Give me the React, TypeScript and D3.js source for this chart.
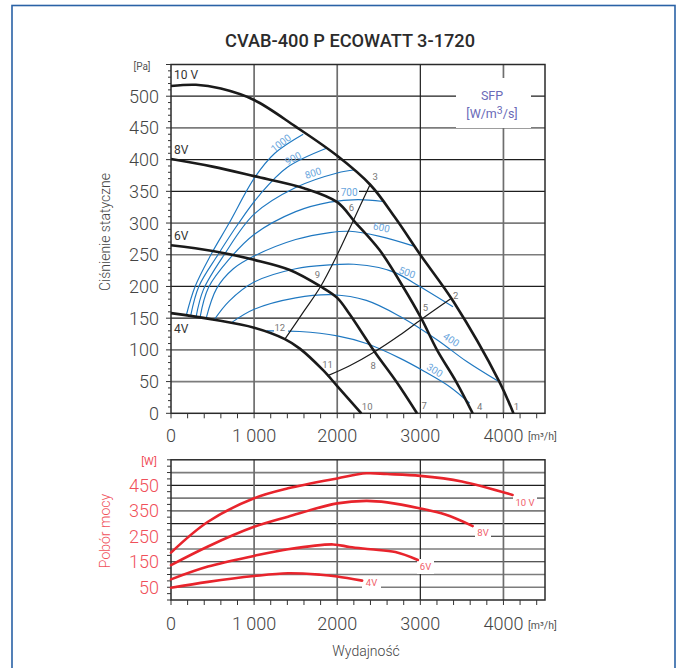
import React from 'react';
import * as d3 from 'd3';

const title = 'CVAB-400 P ECOWATT 3-1720';

// ---- axis ticks ----
const flowTicks = [0, 1000, 2000, 3000, 4000];
const flowTickLabels = ['0', '1 000', '2000', '3000', '4000'];
const pressureTicks = [0, 50, 100, 150, 200, 250, 300, 350, 400, 450, 500];
const powerTicks = [50, 150, 250, 350, 450];
const powerGrid = [50, 100, 150, 200, 250, 300, 350, 400, 450, 500];

// ---- fan curves (m3/h, Pa) ----
const fan10V = [[0, 516], [300, 518], [600, 512], [1000, 494], [1500, 452], [2000, 406], [2400, 360], [2700, 308], [3000, 250], [3400, 176], [3950, 50], [4120, 0]];
const fan8V = [[0, 401], [500, 389], [1000, 374], [1600, 355], [2000, 333], [2212, 302], [2512, 257], [2790, 200], [3010, 150], [3200, 100], [3430, 50], [3630, 0]];
const fan6V = [[0, 265], [500, 256], [1000, 242], [1430, 226], [1800, 200], [2000, 182], [2150, 156], [2450, 97], [2710, 50], [2960, 0]];
const fan4V = [[0, 158], [500, 148], [1000, 135], [1370, 117], [1550, 102], [1830, 68], [2000, 43], [2290, 0]];

// ---- system curves ----
const systemA = [[1370, 117], [1600, 161], [1800, 200], [2000, 250], [2190, 303], [2400, 362]];
const systemB = [[1880, 59], [2150, 75], [2450, 97], [2750, 123], [3010, 148], [3370, 181]];

// ---- SFP iso-lines ----
const sfp1000 = [[185, 155], [290, 200], [480, 250], [700, 300], [1008, 372], [1249, 410], [1590, 440]];
const sfp900 = [[237, 154], [335, 200], [565, 250], [815, 300], [1070, 345], [1400, 388], [1871, 418]];
const sfp800 = [[300, 151], [390, 195], [640, 250], [1000, 314], [1500, 356], [2000, 379], [2213, 384]];
const sfp700 = [[349, 151], [450, 198], [700, 243], [1000, 282], [1500, 318], [1911, 333], [2250, 337], [2552, 334]];
const sfp600 = [[421, 149], [550, 197], [750, 228], [1000, 248], [1500, 274], [1911, 285], [2150, 287], [2512, 279], [2913, 264]];
const sfp500 = [[517, 147], [700, 177], [1000, 207], [1500, 228], [1911, 234], [2200, 235], [2500, 230], [2712, 221], [2993, 200], [3393, 168]];
const sfp400 = [[729, 143], [1000, 164], [1500, 182], [1951, 187], [2350, 178], [2752, 153], [3200, 116], [3554, 82], [3944, 50]];
const sfp300 = [[1150, 130], [1550, 129], [2000, 122], [2352, 110], [2752, 87], [3050, 66], [3353, 42], [3594, 16]];

const sfpSeries = [sfp1000, sfp900, sfp800, sfp700, sfp600, sfp500, sfp400, sfp300];
const sfpNames = ['1000', '900', '800', '700', '600', '500', '400', '300'];
const sfpLabelPos = [[1322, 426], [1470, 402], [1710, 379], [2143, 348], [2532, 293], [2840, 222], [3373, 116], [3173, 68]];
const sfpLabelAngle = [-38, -28, -18, 0, 12, 20, 33, 32];

// ---- operating points ----
const pointNames = ['1', '2', '3', '4', '5', '6', '7', '8', '9', '10', '11', '12'];
const pointPos = [[4155, 11], [3425, 185], [2456, 373], [3714, 10], [3061, 167], [2172, 325], [3045, 12], [2432, 75], [1763, 219], [2360, 10], [1883, 76], [1310, 135]];

// ---- power curves (m3/h, W) ----
const pow10V = [[0, 186], [445, 307], [1000, 399], [1408, 438], [2000, 477], [2350, 497], [2600, 494], [3000, 487], [3500, 465], [4110, 412]];
const pow8V = [[0, 137], [445, 210], [1000, 287], [1408, 327], [2000, 379], [2350, 389], [2600, 383], [3000, 359], [3300, 335], [3630, 290]];
const pow6V = [[0, 81], [445, 131], [1000, 173], [1408, 199], [1950, 218], [2150, 208], [2400, 199], [2700, 188], [2970, 157]];
const pow4V = [[0, 48], [445, 71], [1000, 94], [1408, 105], [1800, 99], [2000, 92], [2300, 76]];

const fanSeries = [fan10V, fan8V, fan6V, fan4V];
const powerSeries = [pow10V, pow8V, pow6V, pow4V];
const voltNames = ['10 V', '8V', '6V', '4V'];

const FONT = 'Roboto, "DejaVu Sans", sans-serif';

export default function App() {
  const x = d3.scaleLinear().domain([0, 4500]).range([171, 545]);
  const yP = d3.scaleLinear().domain([0, 550]).range([413.3, 64.5]);
  const yW = d3.scaleLinear().domain([0, 550]).range([600, 459.8]);

  const curve = d3.curveCatmullRom.alpha(0.5);
  const lineP = d3.line<number[]>().x(d => x(d[0])).y(d => yP(d[1])).curve(curve);
  const lineW = d3.line<number[]>().x(d => x(d[0])).y(d => yW(d[1])).curve(curve);

  const minorFlow = d3.range(0, 4401, 200);
  const minorP = d3.range(0, 551, 10);
  const minorW = d3.range(0, 551, 25);

  const grayH = new Set([450, 300, 250, 100, 50]);
  const grayV = new Set([1000, 2000, 4000]);
  const grayHW = new Set([500, 400, 350, 200, 100, 50]);

  const red = '#e8242c';
  const redText = '#f0505a';
  const blue = '#1f78c1';
  const blueText = '#6aa6dd';

  return (
    <svg width={683} height={668} style={{ position: 'absolute', left: 0, top: 0, background: '#fff' }} fontFamily={FONT}>
      <rect x={0} y={0} width={683} height={668} fill="#fff" />
      {/* frame */}
      <rect x={12} y={5.5} width={663} height={700} fill="none" stroke="#2a62a6" strokeWidth={1.6} />

      <text x={350} y={47} textAnchor="middle" fontSize={18} fontWeight={500} fill="#2b2b2b" textLength={250} lengthAdjust="spacingAndGlyphs">{title}</text>

      {/* ===== TOP CHART ===== */}
      {pressureTicks.filter(v => v > 0).map(v => (
        <line key={'hp' + v} x1={x(0)} x2={x(4500)} y1={yP(v)} y2={yP(v)} stroke={grayH.has(v) ? '#7c7c7c' : '#1e1e1e'} strokeWidth={grayH.has(v) ? 1.7 : 1.2} />
      ))}
      {flowTicks.filter(v => v > 0).map(v => (
        <line key={'vp' + v} x1={x(v)} x2={x(v)} y1={yP(0)} y2={yP(550)} stroke={grayV.has(v) ? '#6e6e6e' : '#1e1e1e'} strokeWidth={grayV.has(v) ? 1.7 : 1.2} />
      ))}
      {/* SFP legend box */}
      <rect x={456} y={78} width={75} height={50} fill="#fff" />
      <text x={492} y={100} textAnchor="middle" fontSize={12.5} fill="#6a6ab8">SFP</text>
      <text x={492} y={118} textAnchor="middle" fontSize={12.5} fill="#6a6ab8">[W/m<tspan dy={-4} fontSize={10.5}>3</tspan><tspan dy={4}>/s]</tspan></text>

      <rect x={x(0)} y={yP(550)} width={x(4500) - x(0)} height={yP(0) - yP(550)} fill="none" stroke="#2a2a2a" strokeWidth={1.5} />

      {/* ticks */}
      {minorP.map(v => (
        <line key={'tp' + v} x1={x(0) - (v % 50 === 0 ? 5 : 3)} x2={x(0)} y1={yP(v)} y2={yP(v)} stroke="#333" strokeWidth={1} />
      ))}
      {minorFlow.map(v => (
        <line key={'tf' + v} x1={x(v)} x2={x(v)} y1={yP(0)} y2={yP(0) + 5} stroke="#333" strokeWidth={1} />
      ))}

      {/* SFP curves */}
      {sfpSeries.map((s, i) => (
        <path key={'sfp' + i} d={lineP(s) || ''} fill="none" stroke={blue} strokeWidth={1.15} />
      ))}
      {/* label backgrounds */}
      <rect x={339} y={186} width={20} height={11} fill="#fff" />
      <rect x={274} y={322} width={14} height={11} fill="#fff" />
      {sfpNames.map((n, i) => (
        <text key={'sl' + n} transform={`translate(${x(sfpLabelPos[i][0])},${yP(sfpLabelPos[i][1])}) rotate(${sfpLabelAngle[i]})`} textAnchor="middle" dy="0.35em" fontSize={10} fill={blueText}>{n}</text>
      ))}

      {/* system curves */}
      <path d={lineP(systemA) || ''} fill="none" stroke="#1a1a1a" strokeWidth={1.2} />
      <path d={lineP(systemB) || ''} fill="none" stroke="#1a1a1a" strokeWidth={1.2} />

      {/* fan curves */}
      {fanSeries.map((s, i) => (
        <path key={'fan' + i} d={lineP(s) || ''} fill="none" stroke="#1a1a1a" strokeWidth={2.6} strokeLinejoin="round" />
      ))}
      {voltNames.map((n, i) => (
        <text key={'vn' + i} x={174} y={[75, 149.5, 236, 329][i]} dy="0.35em" fontSize={12} fill="#333">{n}</text>
      ))}
      {pointNames.map((n, i) => (
        <text key={'pt' + n} x={x(pointPos[i][0])} y={yP(pointPos[i][1])} dy="0.35em" textAnchor="middle" fontSize={9.5} fill="#777">{n}</text>
      ))}

      {/* y axis labels */}
      {pressureTicks.map(v => (
        <text key={'lp' + v} x={159} y={yP(v)} dy="0.36em" textAnchor="end" fontSize={18} fontWeight={300} fill="#444">{v}</text>
      ))}
      <text x={142} y={70} textAnchor="middle" fontSize={10} fill="#555">[Pa]</text>
      <text transform={`translate(110,232) rotate(-90)`} textAnchor="middle" fontSize={14} fontWeight={300} fill="#444">Ciśnienie statyczne</text>
      {flowTicks.map((v, i) => (
        <text key={'lf' + v} x={x(v)} y={441.5} textAnchor="middle" fontSize={18} fontWeight={300} fill="#444">{flowTickLabels[i]}</text>
      ))}
      <text x={528} y={440} fontSize={10.5} fill="#555">[m³/h]</text>

      {/* ===== BOTTOM CHART ===== */}
      {powerGrid.map(v => (
        <line key={'hw' + v} x1={x(0)} x2={x(4500)} y1={yW(v)} y2={yW(v)} stroke={grayHW.has(v) ? '#7c7c7c' : '#1e1e1e'} strokeWidth={grayHW.has(v) ? 1.7 : 1.2} />
      ))}
      {flowTicks.filter(v => v > 0).map(v => (
        <line key={'vw' + v} x1={x(v)} x2={x(v)} y1={yW(0)} y2={yW(550)} stroke={grayV.has(v) ? '#6e6e6e' : '#1e1e1e'} strokeWidth={grayV.has(v) ? 1.7 : 1.2} />
      ))}
      <rect x={x(0)} y={yW(550)} width={x(4500) - x(0)} height={yW(0) - yW(550)} fill="none" stroke="#2a2a2a" strokeWidth={1.5} />
      {minorW.map(v => (
        <line key={'tw' + v} x1={x(0) - 4} x2={x(0)} y1={yW(v)} y2={yW(v)} stroke="#333" strokeWidth={1} />
      ))}
      {minorFlow.map(v => (
        <line key={'tfw' + v} x1={x(v)} x2={x(v)} y1={yW(0)} y2={yW(0) + 5} stroke="#333" strokeWidth={1} />
      ))}

      {/* power label backgrounds */}
      <rect x={513} y={494} width={24} height={14} fill="#fff" />
      <rect x={475} y={526} width={16} height={14} fill="#fff" />
      <rect x={417} y={559} width={17} height={15} fill="#fff" />
      <rect x={362} y={576} width={19} height={13} fill="#fff" />

      {powerSeries.map((s, i) => (
        <path key={'pw' + i} d={lineW(s) || ''} fill="none" stroke={red} strokeWidth={2.6} strokeLinecap="round" />
      ))}
      {voltNames.map((n, i) => (
        <text key={'pvn' + i} x={[525, 483, 425.5, 371.5][i]} y={[502.5, 532.5, 567, 582.5][i]} dy="0.35em" textAnchor="middle" fontSize={9.5} fill="#f0606a">{n}</text>
      ))}

      {powerTicks.map(v => (
        <text key={'lw' + v} x={159} y={yW(v)} dy="0.36em" textAnchor="end" fontSize={18} fontWeight={300} fill={redText}>{v}</text>
      ))}
      <text x={149} y={465} textAnchor="middle" fontSize={11} fill={redText}>[W]</text>
      <text transform={`translate(110,531) rotate(-90)`} textAnchor="middle" fontSize={14} fontWeight={300} fill={redText}>Pobór mocy</text>
      {flowTicks.map((v, i) => (
        <text key={'lfw' + v} x={x(v)} y={630} textAnchor="middle" fontSize={18} fontWeight={300} fill="#444">{flowTickLabels[i]}</text>
      ))}
      <text x={528} y={629} fontSize={10.5} fill="#555">[m³/h]</text>
      <text x={366} y={656} textAnchor="middle" fontSize={14} fontWeight={300} fill="#444">Wydajność</text>
    </svg>
  );
}
